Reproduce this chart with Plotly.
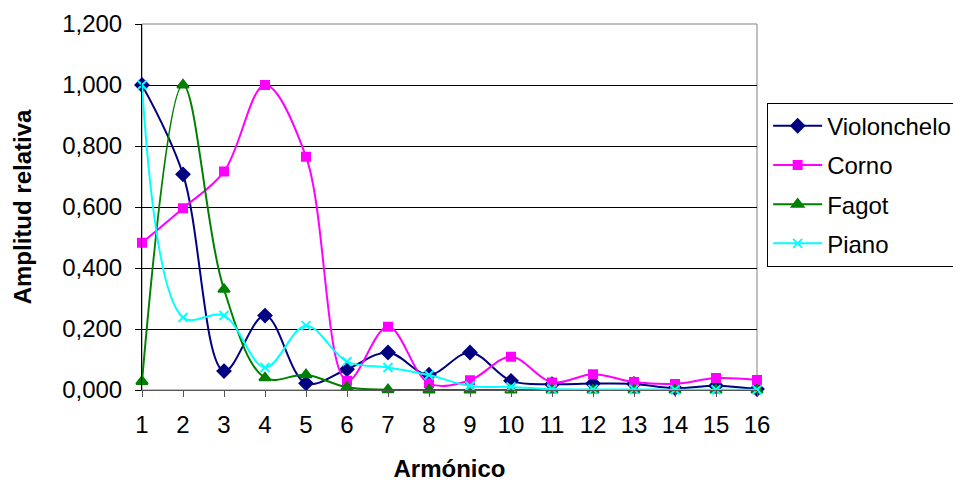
import plotly.graph_objects as go

# Harmonic number (x axis)
armonicos = list(range(1, 17))

# Relative amplitude of each harmonic per instrument
violonchelo = [1.000, 0.707, 0.062, 0.244, 0.022, 0.068, 0.123, 0.050, 0.123, 0.030,
               0.019, 0.021, 0.020, 0.006, 0.014, 0.003]
corno = [0.483, 0.596, 0.716, 1.000, 0.765, 0.030, 0.207, 0.022, 0.032, 0.109,
         0.025, 0.052, 0.026, 0.020, 0.039, 0.033]
fagot = [0.028, 1.000, 0.330, 0.040, 0.050, 0.009, 0.001, 0.000, 0.000, 0.000,
         0.000, 0.000, 0.000, 0.000, 0.000, 0.000]
piano = [1.000, 0.238, 0.244, 0.074, 0.211, 0.093, 0.074, 0.049, 0.013, 0.010,
         0.003, 0.002, 0.002, 0.001, 0.001, 0.001]

y_ticks = [0, 0.2, 0.4, 0.6, 0.8, 1.0, 1.2]

series = [
    ("Violonchelo", violonchelo, "#000080", "diamond", 10),
    ("Corno", corno, "#FF00FF", "square", 8),
    ("Fagot", fagot, "#008000", "triangle-up", 10),
    ("Piano", piano, "#00FFFF", "x-thin-open", 9),
]

fig = go.Figure()
for name, vals, color, symbol, size in series:
    fig.add_trace(go.Scatter(
        x=armonicos, y=vals, name=name, mode="lines+markers",
        legendgroup=name,
        line=dict(color=color, width=2, shape="spline", smoothing=1),
        marker=dict(symbol=symbol, size=size, color=color,
                    line=dict(color=color, width=2)),
        cliponaxis=False,
    ))

font_family = "Liberation Sans, Arial, sans-serif"

fig.update_layout(
    width=953, height=482,
    margin=dict(l=142, r=196, t=24, b=92),
    paper_bgcolor="white", plot_bgcolor="white",
    separators=",.",
    font=dict(family=font_family, size=24, color="black"),
    showlegend=True,
    legend=dict(
        xref="container", yref="container",
        x=0.805, y=0.787, xanchor="left", yanchor="top",
        bordercolor="black", borderwidth=1, bgcolor="white",
        font=dict(size=24), traceorder="grouped", tracegroupgap=5,
        itemwidth=49,
    ),
    xaxis=dict(
        range=[1, 16], tickvals=armonicos, ticks="outside", ticklen=6,
        tickcolor="#555555", showgrid=False, zeroline=False,
        showline=True, linecolor="#555555", linewidth=1,
        tickfont=dict(size=24), ticklabelstandoff=7, automargin=False,
        title=dict(text="<b>Armónico</b>", font=dict(size=24), standoff=25),
    ),
    yaxis=dict(
        range=[0, 1.2], tickvals=y_ticks, tickformat=".3f",
        ticks="outside", ticklen=6, tickcolor="black",
        showgrid=True, gridcolor="black", gridwidth=1, zeroline=False,
        showline=True, linecolor="black", linewidth=1,
        tickfont=dict(size=24), ticklabelstandoff=8, automargin=False,
        title=dict(text="<b>Amplitud relativa</b>", font=dict(size=24), standoff=23),
    ),
)

# Plot area border on the top and right
fig.add_shape(type="rect", xref="paper", yref="paper", x0=0, y0=0, x1=1, y1=1,
              line=dict(color="#808080", width=1), layer="below")

fig.write_html("out.html")
